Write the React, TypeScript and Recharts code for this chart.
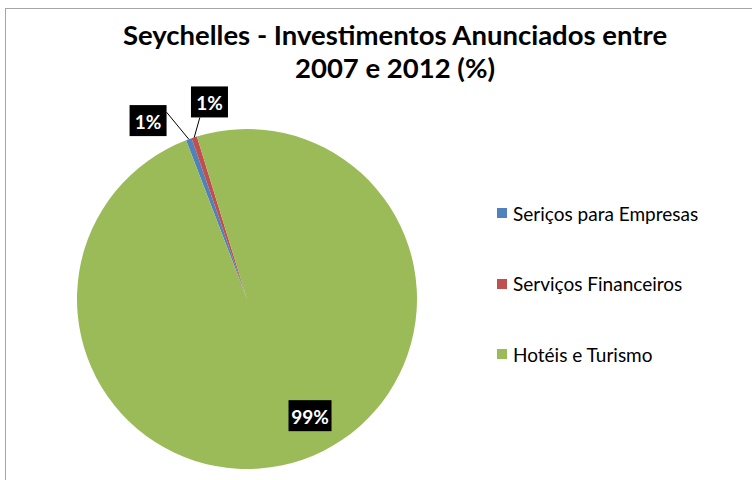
import { PieChart, Pie, Cell, Legend } from "recharts";

const categories = ["Seriços para Empresas", "Serviços Financeiros", "Hotéis e Turismo"];
const shares = [0.55, 0.52, 98.93];
const colors = ["#4F81BD", "#C0504D", "#9BBB59"];

const data = categories.map((name, i) => ({ name, value: shares[i] }));

const RAD = Math.PI / 180;
const FONT = "Lato, 'Open Sans', sans-serif";

// label placement tweaks: angle shift (deg), radius relative to outerRadius,
// and where the leader line meets the box (fractions of box width/height)
const labelAdj = [
  { da: 9, r: 1.2, ax: 1, ay: 0.23 },
  { da: -7.3, r: 1.18, ax: 0.24, ay: 1 },
  { da: 9.3, r: 0.78, ax: 0, ay: 0 },
];

// eslint-disable-next-line @typescript-eslint/no-explicit-any
function renderLabel(props: any) {
  const { cx, cy, midAngle, outerRadius, percent, index } = props;
  const adj = labelAdj[index];
  const a = (midAngle + adj.da) * RAD;
  const r = outerRadius * adj.r;
  const x = cx + r * Math.cos(a);
  const y = cy - r * Math.sin(a);
  const text = `${Math.round(percent * 100)}%`;
  const w = text.length > 2 ? 43 : 37;
  const h = 31;
  const outside = adj.r > 1;
  let line = null;
  if (outside) {
    const sx = cx + outerRadius * Math.cos(midAngle * RAD);
    const sy = cy - outerRadius * Math.sin(midAngle * RAD);
    const ex = x - w / 2 + adj.ax * w;
    const ey = y - h / 2 + adj.ay * h;
    line = <line x1={sx} y1={sy} x2={ex} y2={ey} stroke="#000" strokeWidth={1} />;
  }
  return (
    <g key={`lbl-${index}`}>
      {line}
      <rect x={x - w / 2} y={y - h / 2} width={w} height={h} fill="#000" />
      <text
        x={x}
        y={y + 1}
        fill="#fff"
        fontFamily={FONT}
        fontWeight="bold"
        fontSize={19}
        textAnchor="middle"
        dominantBaseline="central"
      >
        {text}
      </text>
    </g>
  );
}

function LegendContent() {
  return (
    <div style={{ fontFamily: FONT, fontSize: 19, color: "#000" }}>
      {categories.map((c, i) => (
        <div
          key={c}
          style={{ display: "flex", alignItems: "center", height: 24, marginBottom: i < categories.length - 1 ? 46.5 : 0 }}
        >
          <div style={{ width: 10, height: 10, background: colors[i], marginRight: 6 }} />
          <span>{c}</span>
        </div>
      ))}
    </div>
  );
}

export default function App() {
  return (
    <div style={{ position: "absolute", left: 0, top: 0, width: 752, height: 480, background: "#fff", overflow: "hidden" }}>
      <div
        style={{
          position: "absolute",
          left: 5,
          top: 8,
          width: 800,
          height: 500,
          border: "1.5px solid #a6a6a6",
        }}
      />
      <div
        style={{
          position: "absolute",
          left: 0,
          top: 18,
          width: 790,
          textAlign: "center",
          fontFamily: FONT,
          fontWeight: "bold",
          fontSize: 27.5,
          lineHeight: "33px",
          color: "#000",
        }}
      >
        Seychelles - Investimentos Anunciados entre
        <br />
        2007 e 2012 (%)
      </div>
      <PieChart
        width={752}
        height={480}
        margin={{ top: 0, right: 0, bottom: 0, left: 0 }}
        style={{ position: "absolute", left: 0, top: 0 }}
      >
        <Pie
          data={data}
          dataKey="value"
          nameKey="name"
          cx={247}
          cy={299}
          outerRadius={170}
          startAngle={111}
          endAngle={-249}
          stroke="none"
          label={renderLabel}
          labelLine={false}
          isAnimationActive={false}
        >
          {data.map((d, i) => (
            <Cell key={d.name} fill={colors[i]} />
          ))}
        </Pie>
        <Legend
          layout="vertical"
          content={<LegendContent />}
          wrapperStyle={{ position: "absolute", left: 497, top: 201, width: 250 }}
        />
      </PieChart>
    </div>
  );
}
